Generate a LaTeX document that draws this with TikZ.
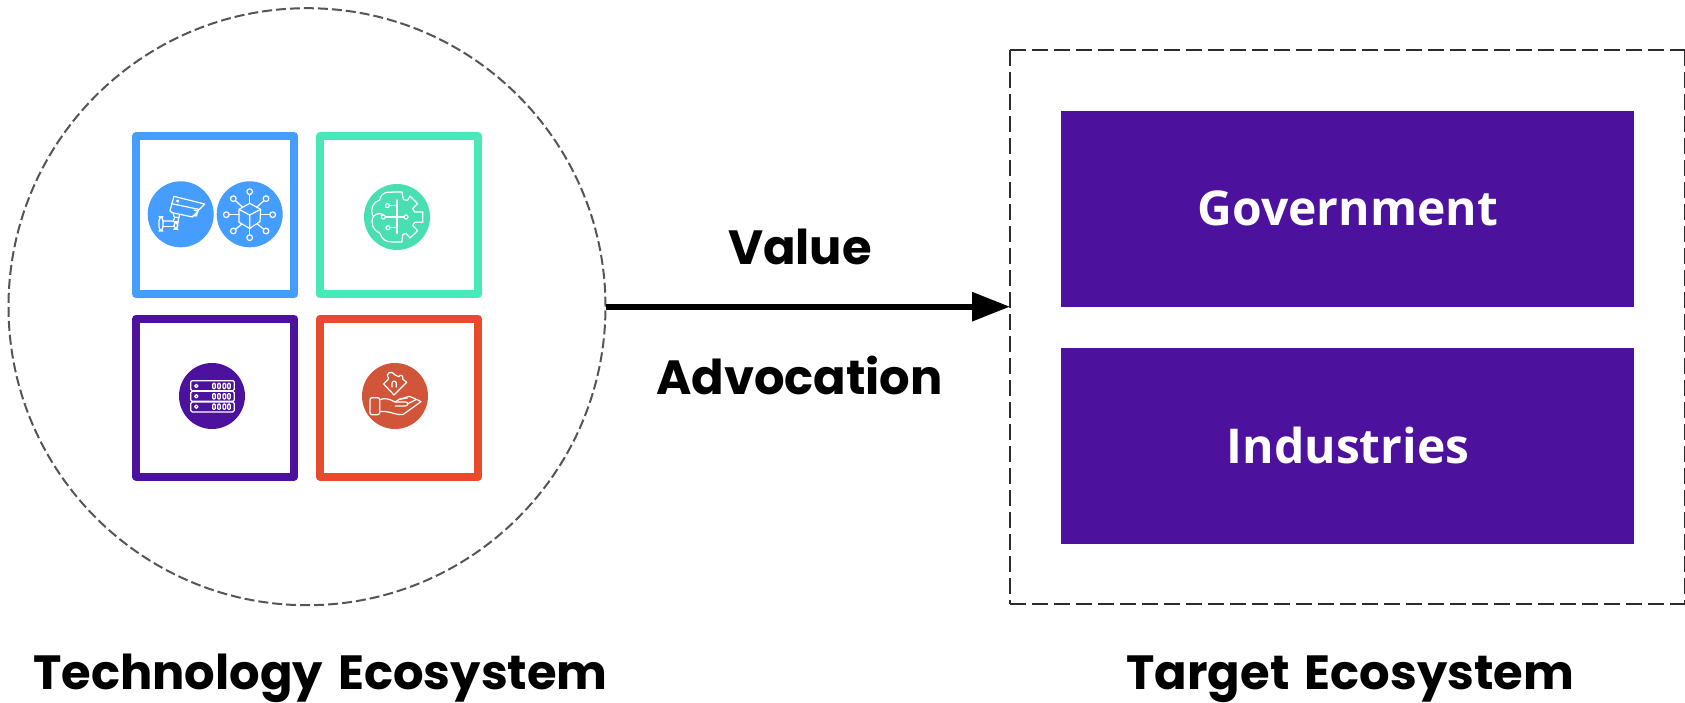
\documentclass[tikz,border=0pt]{standalone}
\usepackage{fontspec}
\usepackage{graphicx}
\usetikzlibrary{arrows.meta}
\newfontfamily\headfont{Poppins}
\newfontfamily\boxfont{Open Sans}
\definecolor{cblue}{HTML}{459DFF}
\definecolor{cgreen}{HTML}{48E8B8}
\definecolor{cgreenb}{HTML}{49DFB2}
\definecolor{cpurple}{HTML}{4C129E}
\definecolor{cred}{HTML}{E84A2C}
\definecolor{credb}{HTML}{D15639}
\definecolor{cdash}{HTML}{555555}
\definecolor{cdashb}{HTML}{2B2B2B}
\tikzset{
  tile/.style={rectangle,draw=#1,line width=8pt,line join=round,minimum size=158pt,inner sep=0pt,fill=white},
  badge/.style={circle,fill=#1,minimum size=66pt,inner sep=0pt},
  band/.style={rectangle,fill=cpurple,minimum width=572.7pt,minimum height=196pt,inner sep=0pt},
  bandtext/.style={text=white,font=\boxfont\bfseries\fontsize{48}{48}\selectfont,anchor=base,inner sep=0pt},
  headtext/.style={text=black,font=\headfont\bfseries\fontsize{48}{48}\selectfont,anchor=base,inner sep=0pt},
  frameside/.style={draw=cdashb,line width=2pt,dash pattern=on 16pt off 6pt},
  icon/.style={draw=white,line width=1.2pt,line join=round,line cap=round},
  iconscope/.style={x=0.33333pt,y=-0.33333pt,shift={(120pt,-120pt)}}
}
\begin{document}
\begin{tikzpicture}[x=1pt,y=-1pt]
\useasboundingbox (0,0) rectangle (1685,703);
% containers
\node[circle,draw=cdash,line width=2pt,dash pattern=on 10pt off 4pt,minimum size=597pt,inner sep=0pt,outer sep=0pt] (tech) at (307,306.7) {};
\node[rectangle,minimum width=674.7pt,minimum height=554.3pt,inner sep=0pt,outer sep=0pt] (target) at (1347.35,327.15) {};
\draw[frameside] (target.north west) -- (target.north east);
\draw[frameside] (target.north west) -- (target.south west);
\draw[frameside] (target.south west) -- (target.south east);
\draw[frameside] (target.north east) -- (target.south east);
% tiles
\node[tile=cblue] (t1) at (215.3,215.3) {};
\node[tile=cgreen] (t2) at (398.9,215.3) {};
\node[tile=cpurple] (t3) at (215.3,397.5) {};
\node[tile=cred] (t4) at (398.9,397.5) {};
% badges
\node[badge=cblue] (b1) at (180.7,214.3) {};
\node[badge=cblue] (b2) at (249.7,214.3) {};
\node[badge=cgreenb] (b3) at (397,217) {};
\node[badge=cpurple] (b4) at (212,396) {};
\node[badge=credb] (b5) at (395,396) {};
% icons
\begin{scope}[iconscope]
  % camera
  \draw[icon] (162,229)--(254,252)--(238,268)--(218,291)--(156,278)--(150,272)--cycle;
  \draw[icon] (155,251)--(236,268);
  \draw[icon] (222,270)--(234,273)--(229,288)--(219,286);
  \draw[icon] (173,243) circle (3);
  \draw[icon] (160,279)--(162,291)--(177,293)--(178,284);
  \draw[icon] (164,292)--(160,303)--(129,303);
  \draw[icon] (176,293)--(172,322);
  \draw[icon] (129,320)--(162,320);
  \draw[icon,rounded corners=4pt] (117,290) rectangle (129,333);
  \draw[icon,rounded corners=4pt] (162,305) rectangle (173,328);
  % cube hub
  \draw[icon] (389,250)--(422,268)--(420,305)--(389,325)--(357,307)--(357,268)--cycle;
  \draw[icon] (357,268)--(389,285)--(422,268) (389,285)--(389,325);
  \foreach \cx/\cy/\sx/\sy in {389/215/389/250,340/236/368/262,438/236/410/262,319/284/357/284,458/284/421/284,340/333/366/312,438/333/412/312,389/353/389/325}{
    \draw[icon] (\sx,\sy)--(\cx,\cy);
    \draw[icon,fill=cblue] (\cx,\cy) circle (8.5);
  }
  % brain and gear
  \draw[icon] (816,216)--(846,216)--(850,238)--(862,242)--(870,228)--(893,251)--(878,266)--(884,276)--(908,276)--(908,307)--(884,307)--(878,316)--(893,332)--(870,354)--(858,340)--(848,344)--(846,366)--(816,366);
  \draw[icon] (816,217) .. controls (795,214) and (782,222) .. (779,240)
     .. controls (760,245) and (748,268) .. (760,290)
     .. controls (750,310) and (760,332) .. (780,340)
     .. controls (785,358) and (800,368) .. (816,365);
  \draw[icon] (831,240)--(831,340);
  \draw[icon] (796,291)--(852,291);
  \draw[icon] (802,257)--(831,257) (804,323)--(831,323);
  \draw[icon] (760,290) .. controls (768,280) and (780,278) .. (790,285);
  \foreach \cx/\cy in {790/291,858/291,802/257,804/323}{
    \draw[icon,fill=cgreenb] (\cx,\cy) circle (6);
  }
  % server
  \draw[icon,rounded corners=1.5pt] (212,782) rectangle (343,812);
  \draw[icon,rounded corners=1.5pt] (212,814) rectangle (343,844);
  \draw[icon,rounded corners=1.5pt] (212,846) rectangle (343,876);
  \foreach \ry in {798,829,860}{
    \draw[icon] (229,\ry) circle (5);
    \foreach \rx in {278,293,309,323}{
      \draw[icon,rounded corners=1pt] (\rx,\ry-8) rectangle (\rx+8,\ry+8);
    }
  }
  % puzzle and hand
  \draw[icon] (791,792)--(806,776) .. controls (794,762) and (812,748) .. (824,764)
     --(836,770) .. controls (842,760) and (852,770) .. (848,777)--(860,787)--(822,825)--cycle;
  \draw[icon] (816,801)--(816,790) .. controls (816,781) and (829,781) .. (829,790)--(829,801);
  \draw[icon,rounded corners=2pt] (750,833) rectangle (779,884);
  \draw[icon] (779,839) .. controls (795,832) and (810,838) .. (825,846)--(856,846)
     .. controls (866,846) and (866,856) .. (856,858)--(826,858);
  \draw[icon] (779,875) .. controls (805,870) and (830,888) .. (850,883)
     --(903,845)--(890,838)--(862,852);
  \draw[icon] (825,846)--(838,838)--(868,829)--(887,837);
  \draw[icon] (838,838)--(862,834);
\end{scope}
% target bands
\node[band] (gov) at (1347.35,209) {};
\node[band] (ind) at (1347.35,445.85) {};
\node[bandtext] (govt) at (1347.7,226) {Government};
\node[bandtext] (indt) at (1348,463) {Industries};
% arrow
\draw[line width=6pt,-{Triangle[length=38pt,width=28pt]}] (tech.east) -- (tech.east -| target.west);
% labels
\node[headtext] (val) at (800,265) {Value};
\node[headtext] (adv) at (799.5,394) {Advocation};
\node[headtext] (tl) at (320.5,689.5) {Technology\hspace{5pt} Ecosystem};
\node[headtext] (rl) at (1350.3,689.5) {Target\hspace{5pt} Ecosystem};
\end{tikzpicture}
\end{document}
